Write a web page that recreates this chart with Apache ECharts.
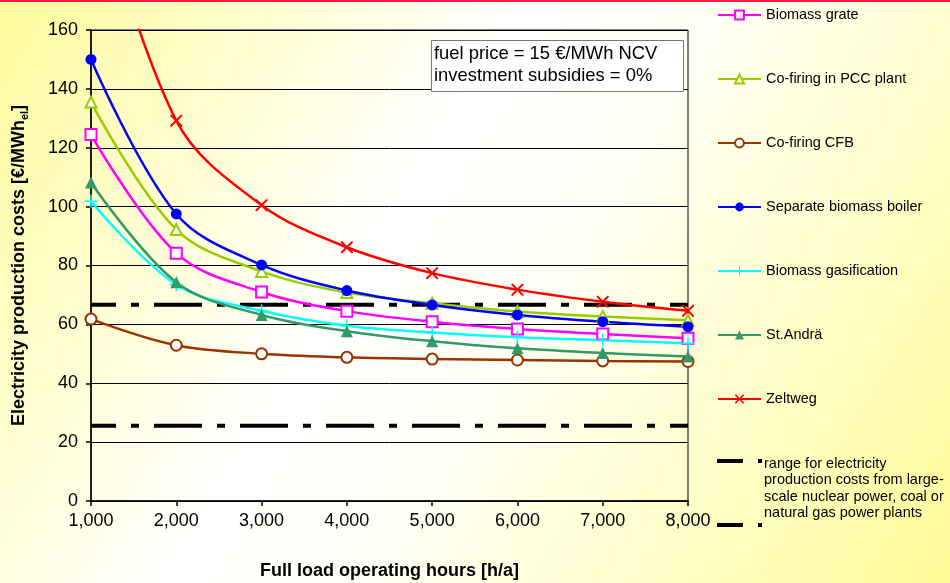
<!DOCTYPE html>
<html>
<head>
<meta charset="utf-8">
<script src="https://cdn.jsdelivr.net/npm/echarts@6/dist/echarts.min.js"></script>
<style>html,body{margin:0;padding:0;}#c{width:950px;height:583px;}</style>
</head>
<body>
<div id="c"></div>
<script>
var hours = [1000, 2000, 3000, 4000, 5000, 6000, 7000, 8000];
var biomassGrate = [124.5, 84.2, 71.0, 64.5, 60.9, 58.4, 56.7, 55.3];
var cofiringPCC = [135.5, 92.2, 78.0, 70.8, 67.2, 64.4, 62.7, 61.4];
var cofiringCFB = [61.8, 52.9, 50.0, 48.8, 48.2, 47.9, 47.6, 47.4];
var separateBoiler = [150.0, 97.5, 80.2, 71.5, 66.6, 63.2, 60.9, 59.2];
var gasification = [101.8, 73.5, 64.6, 59.5, 57.2, 55.6, 54.6, 53.6];
var stAndrae = [108.2, 74.3, 63.2, 57.7, 54.3, 51.9, 50.3, 49.1];
var zeltweg = [214.0, 129.2, 100.5, 86.2, 77.4, 71.8, 67.7, 64.6];
var rangeBounds = [66.7, 25.6];
var yTicks = [0, 20, 40, 60, 80, 100, 120, 140, 160];

var FONT = '"Liberation Sans", Arial, sans-serif';
function pairs(vals) { return hours.map(function (h, i) { return [h, vals[i]]; }); }

var crossPath = 'path://M0,0 L1.2,0 L5,3.8 L8.8,0 L10,0 L10,1.2 L6.2,5 L10,8.8 L10,10 L8.8,10 L5,6.2 L1.2,10 L0,10 L0,8.8 L3.8,5 L0,1.2 Z';
var plusPath = 'path://M4.4,0 L5.6,0 L5.6,4.4 L10,4.4 L10,5.6 L5.6,5.6 L5.6,10 L4.4,10 L4.4,5.6 L0,5.6 L0,4.4 L4.4,4.4 Z';
var rangeIcon = 'path://M0,0 L26,0 L26,4 L0,4 Z M41,0 L45,0 L45,4 L41,4 Z';

function lineSeries(name, vals, color, symbol, size, filled) {
  return {
    name: name, type: 'line', data: pairs(vals), smooth: 0.35,
    symbol: symbol, symbolSize: size, showAllSymbol: true,
    lineStyle: { color: color, width: 2.5 },
    itemStyle: { color: color, borderColor: color, borderWidth: filled ? 0 : 1.5 },
    clip: true, z: 3
  };
}
function rangeSeries(name, v) {
  return {
    name: name, type: 'line', data: [[hours[0], v], [hours[hours.length - 1], v]],
    symbol: 'none', itemStyle: { color: '#000' },
    lineStyle: { color: '#000', width: 4, type: [48, 15, 8, 15], dashOffset: 23 }, z: 2
  };
}

var chart = echarts.init(document.getElementById('c'), null, { renderer: 'canvas' });
var rangeText = 'range for electricity\nproduction costs from large-\nscale nuclear power, coal or\nnatural gas power plants';
chart.setOption({
  animation: false,
  backgroundColor: {
    type: 'linear', x: 0, y: 0, x2: 1, y2: 1,
    colorStops: [
      { offset: 0, color: '#FFFB9C' },
      { offset: 0.4, color: '#FFFFFF' },
      { offset: 0.55, color: '#FFFFF6' },
      { offset: 1, color: '#FFFB98' }
    ]
  },
  textStyle: { fontFamily: FONT },
  title: {
    text: 'fuel price = 15 €/MWh NCV\ninvestment subsidies = 0%',
    left: 431, top: 40,
    padding: [3, 26, 5, 3],
    backgroundColor: '#fff', borderColor: '#777', borderWidth: 1,
    textStyle: { fontFamily: FONT, fontSize: 18.4, fontWeight: 'normal', color: '#000', lineHeight: 22 }
  },
  grid: { left: 91, right: 262, top: 30, bottom: 82, show: true, borderColor: '#000', borderWidth: 1,
    backgroundColor: 'transparent', containLabel: false, outerBoundsMode: 'none' },
  xAxis: {
    type: 'value', min: 1000, max: 8000, interval: 1000,
    name: 'Full load operating hours [h/a]', nameLocation: 'middle', nameGap: 61,
    nameTextStyle: { fontFamily: FONT, fontSize: 18, fontWeight: 'bold', color: '#000' },
    axisLine: { lineStyle: { color: '#000', width: 1.5 } },
    axisTick: { show: true, length: 5, lineStyle: { color: '#000', width: 1.5 } },
    axisLabel: { color: '#000', fontSize: 18, fontFamily: FONT, margin: 11, formatter: function (v) { return v.toLocaleString('en-US'); } },
    splitLine: { show: false }
  },
  yAxis: {
    type: 'value', min: yTicks[0], max: yTicks[yTicks.length - 1], interval: 20,
    name: 'Electricity production costs [€/MWh{sub|el}]', nameLocation: 'middle', nameGap: 61, nameRotate: 90,
    nameTextStyle: { fontFamily: FONT, fontSize: 18, fontWeight: 'bold', color: '#000',
      rich: { sub: { fontFamily: FONT, fontSize: 11, fontWeight: 'bold', color: '#000', verticalAlign: 'bottom', padding: [10, 0, 0, 0] } } },
    axisLine: { show: true, lineStyle: { color: '#000', width: 1.5 } },
    axisTick: { show: true, length: 5, lineStyle: { color: '#000', width: 1.5 } },
    axisLabel: { color: '#000', fontSize: 18, fontFamily: FONT, margin: 13 },
    splitLine: { show: true, lineStyle: { color: '#000', width: 1 } }
  },
  legend: [{
    orient: 'vertical', left: 717, top: 7, padding: 0, itemWidth: 43, itemHeight: 11, itemGap: 48,
    textStyle: { fontFamily: FONT, fontSize: 14.5, color: '#000', lineHeight: 16 },
    data: ['Biomass grate', 'Co-firing in PCC plant', 'Co-firing CFB', 'Separate biomass boiler', 'Biomass gasification', 'St.Andrä', 'Zeltweg']
  }, {
    orient: 'vertical', left: 717, top: 459, padding: 0, itemWidth: 45, itemHeight: 4, itemGap: 60,
    textStyle: { fontFamily: FONT, fontSize: 14.5, color: '#000' },
    formatter: function () { return ''; },
    itemStyle: { color: '#000' },
    data: [
      { name: 'range high', icon: rangeIcon, itemStyle: { color: '#000' } },
      { name: 'range low', icon: rangeIcon, itemStyle: { color: '#000' } }
    ]
  }],
  graphic: [
    { type: 'rect', left: 0, top: 0, shape: { width: 950, height: 2 }, style: { fill: '#FF1744' }, z: 10 },
    { type: 'text', left: 764, top: 456, style: { text: rangeText, font: '14.5px ' + FONT, fill: '#000', lineHeight: 16.3 } }
  ],
  series: [
    lineSeries('Biomass grate', biomassGrate, '#FF00FF', 'emptyRect', 11, false),
    lineSeries('Co-firing in PCC plant', cofiringPCC, '#99CC00', 'emptyTriangle', 11, false),
    lineSeries('Co-firing CFB', cofiringCFB, '#993300', 'emptyCircle', 11, false),
    lineSeries('Separate biomass boiler', separateBoiler, '#0000FF', 'circle', 11, true),
    lineSeries('Biomass gasification', gasification, '#00FFFF', plusPath, 13, true),
    lineSeries('St.Andrä', stAndrae, '#339966', 'triangle', 12, true),
    lineSeries('Zeltweg', zeltweg, '#FF0000', crossPath, 12, true),
    rangeSeries('range high', rangeBounds[0]),
    rangeSeries('range low', rangeBounds[1])
  ]
});
</script>
</body>
</html>
